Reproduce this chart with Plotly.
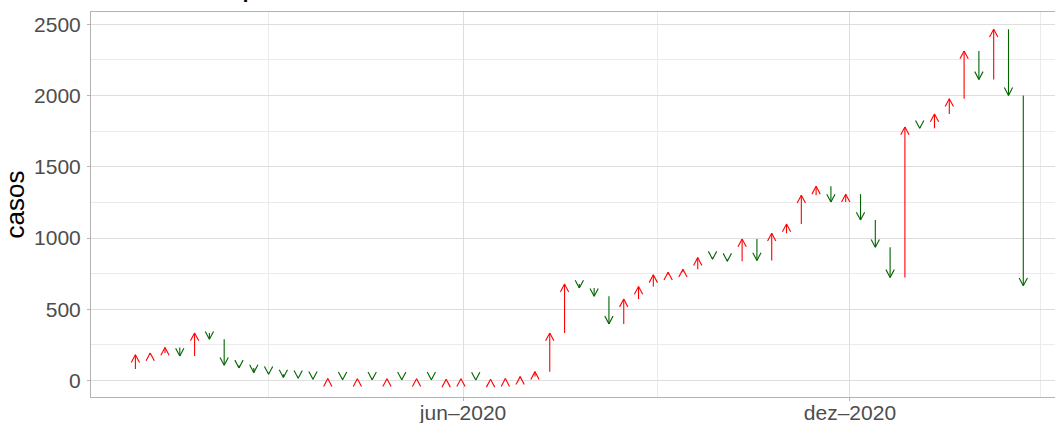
import plotly.graph_objects as go

# weekly dates (epidemiological week start, Sundays)
semanas = [
    "2019-12-22", "2019-12-29", "2020-01-05", "2020-01-12", "2020-01-19", "2020-01-26",
    "2020-02-02", "2020-02-09", "2020-02-16", "2020-02-23", "2020-03-01", "2020-03-08",
    "2020-03-15", "2020-03-22", "2020-03-29", "2020-04-05", "2020-04-12", "2020-04-19",
    "2020-04-26", "2020-05-03", "2020-05-10", "2020-05-17", "2020-05-24", "2020-05-31",
    "2020-06-07", "2020-06-14", "2020-06-21", "2020-06-28", "2020-07-05", "2020-07-12",
    "2020-07-19", "2020-07-26", "2020-08-02", "2020-08-09", "2020-08-16", "2020-08-23",
    "2020-08-30", "2020-09-06", "2020-09-13", "2020-09-20", "2020-09-27", "2020-10-04",
    "2020-10-11", "2020-10-18", "2020-10-25", "2020-11-01", "2020-11-08", "2020-11-15",
    "2020-11-22", "2020-11-29", "2020-12-06", "2020-12-13", "2020-12-20", "2020-12-27",
    "2021-01-03", "2021-01-10", "2021-01-17", "2021-01-24", "2021-01-31", "2021-02-07",
    "2021-02-14", "2021-02-21",
]

casos = [
    82, 182, 194, 233, 172, 334, 290, 108, 89, 56,
    45, 22, 17, 10, 14, 6, 13, 6, 13, 6,
    13, 6, 9, 13, 4, 9, 14, 28, 63, 334,
    677, 650, 592, 398, 572, 660, 742, 760, 782, 863,
    852, 838, 993, 843, 1034, 1099, 1300, 1363, 1253, 1308,
    1127, 936, 724, 1779, 1770, 1870, 1977, 2313, 2113, 2465,
    2001, 665,
]

x_tickvals = ["2020-06-01", "2020-12-01"]
x_ticktext = ["jun\u20132020", "dez\u20132020"]
x_minor = ["2020-03-01", "2020-09-01", "2021-03-01"]
y_tickvals = [0, 500, 1000, 1500, 2000, 2500]
y_minor = [250, 750, 1250, 1750, 2250]

titulo = "Casos no período"

COR_SOBE = "#FF0000"
COR_DESCE = "#006400"
FONT = "Liberation Sans, Arial, Helvetica, sans-serif"
LW = 1.1          # line width of arrows
HEAD_ANG = 28     # half-angle of the open arrowhead (degrees)
HEAD_SIZE = 6.3   # marker size -> arm length = 1.4 * size

fig = go.Figure()

for sobe, cor in ((True, COR_SOBE), (False, COR_DESCE)):
    sx, sy = [], []      # shafts
    hx, hy = [], []      # head points
    for i in range(1, len(casos)):
        if (casos[i] > casos[i - 1]) != sobe:
            continue
        sx += [semanas[i], semanas[i], None]
        sy += [casos[i - 1], casos[i], None]
        hx.append(semanas[i])
        hy.append(casos[i])
    fig.add_trace(go.Scatter(x=sx, y=sy, mode="lines", line=dict(color=cor, width=LW),
                             hoverinfo="skip", showlegend=False))
    base = 0 if sobe else 180
    n = len(hx)
    fig.add_trace(go.Scatter(
        x=hx + hx, y=hy + hy, mode="markers", hoverinfo="skip", showlegend=False,
        marker=dict(symbol="line-ns", size=HEAD_SIZE,
                    angle=[base + HEAD_ANG] * n + [base - HEAD_ANG] * n,
                    standoff=round(HEAD_SIZE / 2 * 1.4, 2),
                    line=dict(color=cor, width=LW), color=cor),
    ))

fig.add_annotation(
    text=titulo, xref="paper", yref="paper", x=0, y=1,
    xanchor="left", yanchor="bottom", xshift=5, yshift=8, showarrow=False,
    font=dict(family=FONT, size=32, color="black"),
)

fig.update_layout(
    width=1055, height=423,
    margin=dict(l=91, r=0, t=12, b=26, autoexpand=False),
    paper_bgcolor="white", plot_bgcolor="white",
    showlegend=False,
    font=dict(family=FONT),
    xaxis=dict(
        type="date", range=["2019-12-08", "2021-03-08"], automargin=False,
        tickmode="array", tickvals=x_tickvals, ticktext=x_ticktext,
        ticks="outside", ticklen=3, tickcolor="#B3B3B3", tickwidth=1,
        tickfont=dict(size=21, color="#4D4D4D"), ticklabelstandoff=-6,
        showgrid=True, gridcolor="#DEDEDE", gridwidth=1,
        minor=dict(tickmode="array", tickvals=x_minor, showgrid=True,
                   gridcolor="#EBEBEB", gridwidth=0.6, ticks=""),
        showline=True, linecolor="#B3B3B3", linewidth=1, mirror=True,
        zeroline=False,
    ),
    yaxis=dict(
        range=[-115, 2586], automargin=False,
        tickmode="array", tickvals=y_tickvals,
        ticks="outside", ticklen=3, tickcolor="#B3B3B3", tickwidth=1,
        tickfont=dict(size=21, color="#4D4D4D"), ticklabelstandoff=2,
        showgrid=True, gridcolor="#DEDEDE", gridwidth=1,
        minor=dict(tickmode="array", tickvals=y_minor, showgrid=True,
                   gridcolor="#EBEBEB", gridwidth=0.6, ticks=""),
        showline=True, linecolor="#B3B3B3", linewidth=1, mirror=False,
        zeroline=False,
        title=dict(text="casos", font=dict(size=26, color="black"), standoff=3),
    ),
)

fig.write_html(
    "out.html",
    config={"displayModeBar": False},
    post_script="document.body.style.margin='0';document.body.style.overflow='hidden';",
)
